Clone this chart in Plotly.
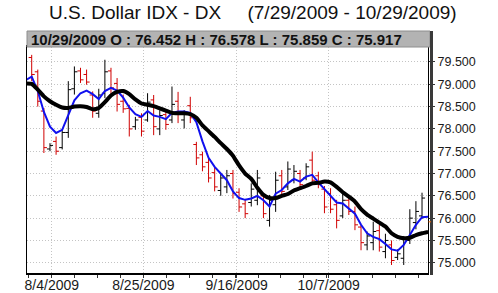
import plotly.graph_objects as go

# ---- data ----
opens = [79.60, 79.28, 78.40, 77.55, 77.72, 77.58, 77.92, 78.90, 79.30, 79.22,
         78.76, 78.35, 78.80, 79.30, 79.02, 78.62, 78.46, 78.05, 78.26, 78.20,
         78.65, 78.00, 78.32, 78.20, 78.62, 78.20, 78.52, 77.65, 77.42, 77.25,
         77.02, 76.62, 76.70, 77.00, 76.58, 76.32, 76.35, 76.40, 76.50, 75.95,
         76.30, 76.95, 76.70, 76.85, 77.00, 76.90, 77.30, 76.95, 76.65, 76.55,
         76.30, 76.05, 76.40, 76.15, 75.80, 75.40, 75.45, 75.72, 75.25, 75.40,
         75.12, 75.10, 75.50, 75.90, 76.05]
highs = [79.66, 79.33, 78.47, 77.68, 77.83, 77.98, 79.07, 79.40, 79.37, 79.33,
         78.84, 78.90, 79.55, 79.37, 79.14, 78.77, 78.54, 78.27, 78.35, 78.80,
         78.76, 78.42, 78.39, 78.95, 78.83, 78.42, 78.72, 77.71, 77.49, 77.35,
         77.15, 77.00, 77.08, 77.08, 76.67, 76.41, 76.78, 77.08, 76.56, 76.52,
         77.04, 77.08, 77.27, 77.19, 77.08, 77.23, 77.49, 77.04, 76.72, 76.67,
         76.41, 76.56, 76.52, 76.26, 75.85, 75.70, 75.92, 75.85, 75.65, 75.50,
         75.30, 75.60, 76.20, 76.38, 76.57]
lows = [79.07, 78.50, 77.46, 77.50, 77.42, 77.54, 77.80, 78.77, 79.03, 78.99,
        78.25, 78.25, 78.69, 78.77, 78.39, 78.36, 77.83, 77.98, 77.83, 78.16,
        77.86, 77.86, 77.98, 78.13, 78.13, 78.01, 78.13, 77.19, 77.05, 76.80,
        76.60, 76.50, 76.56, 76.44, 76.14, 76.00, 76.26, 76.29, 76.00, 75.81,
        76.14, 76.48, 76.63, 76.78, 76.63, 76.85, 76.74, 76.67, 76.11, 76.11,
        75.77, 76.00, 76.07, 75.73, 75.28, 75.28, 75.28, 75.25, 75.10, 74.95,
        75.06, 74.95, 75.42, 75.75, 75.98]
closes = [79.22, 78.62, 77.58, 77.63, 77.50, 77.92, 78.88, 79.28, 79.10, 79.05,
          78.40, 78.76, 79.28, 78.92, 78.55, 78.45, 78.00, 78.20, 77.95, 78.60,
          78.05, 78.30, 78.10, 78.55, 78.35, 78.38, 78.25, 77.35, 77.15, 76.90,
          76.70, 76.90, 76.95, 76.55, 76.25, 76.10, 76.65, 76.90, 76.10, 76.40,
          76.85, 76.60, 77.10, 77.05, 76.75, 77.15, 76.85, 76.75, 76.25, 76.20,
          75.95, 76.40, 76.15, 75.85, 75.45, 75.60, 75.70, 75.35, 75.50, 75.05,
          75.20, 75.52, 76.00, 76.15, 76.45]
bar_index = list(range(len(opens)))

# moving averages (one point before the first and after the last bar)
ma_index = list(range(-1, len(opens) + 1))
ma_fast = [79.09, 79.17, 78.85, 78.38, 78.05, 77.91, 77.98, 78.33, 78.64, 78.80,
           78.86, 78.78, 78.67, 78.85, 78.92, 78.86, 78.70, 78.48, 78.33, 78.27,
           78.40, 78.30, 78.27, 78.22, 78.36, 78.39, 78.39, 78.36, 78.15, 77.72,
           77.35, 77.15, 77.00, 76.85, 76.60, 76.45, 76.41, 76.44, 76.50, 76.40,
           76.26, 76.55, 76.63, 76.78, 76.88, 76.82, 76.93, 76.97, 76.80, 76.65,
           76.50, 76.35, 76.33, 76.22, 76.10, 75.85, 75.66, 75.58, 75.53, 75.42,
           75.30, 75.27, 75.40, 75.62, 75.85, 76.02, 76.03]
ma_slow = [79.02, 79.01, 78.88, 78.73, 78.62, 78.54, 78.48, 78.47, 78.50, 78.51,
           78.49, 78.44, 78.47, 78.60, 78.75, 78.83, 78.85, 78.78, 78.66, 78.57,
           78.54, 78.51, 78.46, 78.41, 78.36, 78.35, 78.35, 78.33, 78.25, 78.08,
           77.95, 77.82, 77.68, 77.55, 77.40, 77.18, 77.00, 76.88, 76.68, 76.52,
           76.45, 76.45, 76.50, 76.54, 76.62, 76.67, 76.72, 76.78, 76.79, 76.82,
           76.80, 76.70, 76.58, 76.48, 76.37, 76.20, 76.08, 75.99, 75.90, 75.81,
           75.66, 75.58, 75.55, 75.56, 75.62, 75.66, 75.69]

tick_pos = [3.3, 18.3, 33.6, 48.7]
tick_text = ["8/4/2009", "8/25/2009", "9/16/2009", "10/7/2009"]
y_ticks = [75.0, 75.5, 76.0, 76.5, 77.0, 77.5, 78.0, 78.5, 79.0, 79.5]

last_date = "10/29/2009"
last_o, last_h, last_l, last_c = 76.452, 76.578, 75.859, 75.917
title_left = "U.S. Dollar IDX - DX"
title_right = "(7/29/2009 - 10/29/2009)"

# ---- figure ----
W, H = 498, 293
ML, MR, MT, MB = 27, 70, 47, 20
PW, PH = W - ML - MR, H - MT - MB


def px_x(px):
    return (px - ML) / PW


def px_y(py):
    return (H - MB - py) / PH


fig = go.Figure()
fig.add_trace(go.Ohlc(
    x=bar_index, open=opens, high=highs, low=lows, close=closes,
    increasing=dict(line=dict(color="#000000", width=1)),
    decreasing=dict(line=dict(color="#d00000", width=1)),
    tickwidth=0.5, hoverinfo="skip", showlegend=False,
))
fig.add_trace(go.Scatter(
    x=ma_index, y=ma_fast, mode="lines",
    line=dict(color="#1010ee", width=2), hoverinfo="skip", showlegend=False,
))
fig.add_trace(go.Scatter(
    x=ma_index, y=ma_slow, mode="lines",
    line=dict(color="#000000", width=4, shape="spline", smoothing=0.5),
    hoverinfo="skip", showlegend=False,
))

font_family = "Arial, 'Liberation Sans', sans-serif"

fig.update_layout(
    width=W, height=H,
    margin=dict(l=ML, r=MR, t=MT, b=MB, pad=0, autoexpand=False),
    paper_bgcolor="white", plot_bgcolor="white",
    font=dict(family=font_family, color="#1a1a1a"),
    showlegend=False,
    xaxis=dict(
        automargin=False,
        range=[-0.77, 64.98], rangeslider=dict(visible=False),
        tickmode="array", tickvals=tick_pos, ticktext=tick_text,
        tickfont=dict(size=14, family=font_family, color="#1a1a1a"),
        ticks="outside", ticklen=3, tickcolor="#333333",
        ticklabelstandoff=-5,
        showline=True, linecolor="#000000", linewidth=1.5, mirror=True,
        showgrid=True, gridcolor="#c4c4c4", griddash="1px,2px", gridwidth=1,
        zeroline=False,
        minor=dict(tickmode="linear", tick0=3.3, dtick=3.7575, ticks="outside",
                   ticklen=3, tickcolor="#333333", showgrid=False),
    ),
    yaxis=dict(
        automargin=False,
        range=[74.77, 79.836], side="right",
        tickmode="array", tickvals=y_ticks,
        ticktext=[f"{v:.3f}" for v in y_ticks],
        tickfont=dict(size=12.5, family=font_family, color="#1a1a1a"),
        ticks="outside", ticklen=6, tickcolor="#333333",
        showline=True, linecolor="#000000", linewidth=1, mirror=True,
        showgrid=True, gridcolor="#c4c4c4", griddash="1px,2px", gridwidth=1,
        zeroline=False,
    ),
)

shapes = [
    # header bar
    dict(type="rect", xref="paper", yref="paper",
         x0=px_x(27), x1=px_x(430), y0=px_y(47), y1=px_y(31),
         fillcolor="#b3b3b3", line=dict(color="#8e8e8e", width=1), layer="above"),
    # dark right frame edge
    dict(type="line", xref="paper", yref="paper",
         x0=px_x(431.5), x1=px_x(431.5), y0=px_y(275), y1=px_y(31),
         line=dict(color="#3a3a3a", width=3), layer="above"),
    # last price marker
    dict(type="line", xref="paper", yref="y",
         x0=px_x(428.5), x1=px_x(431), y0=last_c, y1=last_c,
         line=dict(color="#ff6a00", width=1), layer="above"),
]
fig.update_layout(shapes=shapes)

nb = "\u00a0"
fig.add_annotation(
    xref="paper", yref="paper", x=px_x(252.5), y=px_y(12.7),
    xanchor="center", yanchor="middle", showarrow=False,
    text=title_left + nb * 5 + title_right,
    font=dict(size=19, family=font_family, color="#111111"),
)
fig.add_annotation(
    xref="paper", yref="paper", x=px_x(29), y=px_y(39.5),
    xanchor="left", yanchor="middle", showarrow=False,
    text=(f"<b>{last_date} O : {last_o:.3f} H : {last_h:.3f} "
          f"L : {last_l:.3f} C : {last_c:.3f}</b>"),
    font=dict(size=15, family=font_family, color="#111111"),
)

fig.write_html("out.html")
